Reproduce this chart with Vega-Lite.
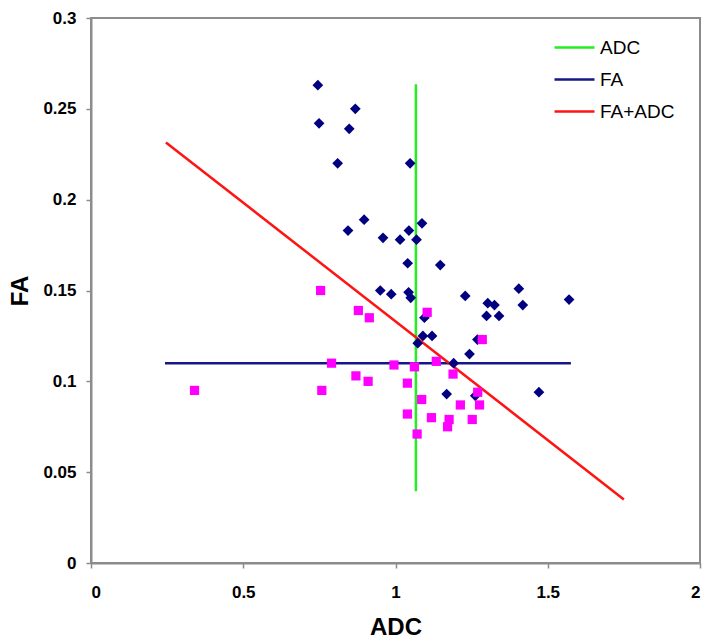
{
  "$schema": "https://vega.github.io/schema/vega-lite/v6.json",
  "autosize": "none",
  "width": 609,
  "height": 545,
  "padding": {"left": 91, "top": 18, "right": 14, "bottom": 81},
  "background": "white",
  "config": {
    "view": {"stroke": "#8c8c8c", "strokeWidth": 2},
    "axis": {
      "domainColor": "#8c8c8c", "domainWidth": 2,
      "tickColor": "#8c8c8c", "tickWidth": 1.5, "tickSize": 5,
      "grid": false,
      "labelFont": "Liberation Sans", "labelFontWeight": "bold", "labelFontSize": 17, "labelColor": "#000000",
      "titleFont": "Liberation Sans", "titleFontSize": 24, "titleFontWeight": "bold", "titleColor": "#000000"
    },
    "legend": {
      "labelFont": "Liberation Sans", "labelFontSize": 19, "labelColor": "#000000"
    }
  },
  "datasets": {
    "points": [
      {"ADC": 0.745, "FA": 0.263, "group": "diamond"},
      {"ADC": 0.868, "FA": 0.250, "group": "diamond"},
      {"ADC": 0.749, "FA": 0.242, "group": "diamond"},
      {"ADC": 0.848, "FA": 0.239, "group": "diamond"},
      {"ADC": 0.810, "FA": 0.220, "group": "diamond"},
      {"ADC": 1.048, "FA": 0.220, "group": "diamond"},
      {"ADC": 0.897, "FA": 0.189, "group": "diamond"},
      {"ADC": 0.844, "FA": 0.183, "group": "diamond"},
      {"ADC": 1.044, "FA": 0.183, "group": "diamond"},
      {"ADC": 1.087, "FA": 0.187, "group": "diamond"},
      {"ADC": 0.959, "FA": 0.179, "group": "diamond"},
      {"ADC": 1.015, "FA": 0.178, "group": "diamond"},
      {"ADC": 1.069, "FA": 0.178, "group": "diamond"},
      {"ADC": 1.040, "FA": 0.165, "group": "diamond"},
      {"ADC": 1.147, "FA": 0.164, "group": "diamond"},
      {"ADC": 0.950, "FA": 0.150, "group": "diamond"},
      {"ADC": 0.986, "FA": 0.148, "group": "diamond"},
      {"ADC": 1.043, "FA": 0.149, "group": "diamond"},
      {"ADC": 1.050, "FA": 0.146, "group": "diamond"},
      {"ADC": 1.229, "FA": 0.147, "group": "diamond"},
      {"ADC": 1.405, "FA": 0.151, "group": "diamond"},
      {"ADC": 1.570, "FA": 0.145, "group": "diamond"},
      {"ADC": 1.303, "FA": 0.143, "group": "diamond"},
      {"ADC": 1.325, "FA": 0.142, "group": "diamond"},
      {"ADC": 1.418, "FA": 0.142, "group": "diamond"},
      {"ADC": 1.299, "FA": 0.136, "group": "diamond"},
      {"ADC": 1.340, "FA": 0.136, "group": "diamond"},
      {"ADC": 1.095, "FA": 0.135, "group": "diamond"},
      {"ADC": 1.090, "FA": 0.125, "group": "diamond"},
      {"ADC": 1.120, "FA": 0.125, "group": "diamond"},
      {"ADC": 1.073, "FA": 0.121, "group": "diamond"},
      {"ADC": 1.269, "FA": 0.123, "group": "diamond"},
      {"ADC": 1.243, "FA": 0.115, "group": "diamond"},
      {"ADC": 1.191, "FA": 0.110, "group": "diamond"},
      {"ADC": 1.168, "FA": 0.093, "group": "diamond"},
      {"ADC": 1.262, "FA": 0.092, "group": "diamond"},
      {"ADC": 1.471, "FA": 0.094, "group": "diamond"},
      {"ADC": 0.754, "FA": 0.150, "group": "square"},
      {"ADC": 0.878, "FA": 0.139, "group": "square"},
      {"ADC": 0.914, "FA": 0.135, "group": "square"},
      {"ADC": 0.790, "FA": 0.110, "group": "square"},
      {"ADC": 0.340, "FA": 0.095, "group": "square"},
      {"ADC": 0.758, "FA": 0.095, "group": "square"},
      {"ADC": 0.870, "FA": 0.103, "group": "square"},
      {"ADC": 0.910, "FA": 0.100, "group": "square"},
      {"ADC": 1.104, "FA": 0.138, "group": "square"},
      {"ADC": 1.285, "FA": 0.123, "group": "square"},
      {"ADC": 0.995, "FA": 0.109, "group": "square"},
      {"ADC": 1.062, "FA": 0.108, "group": "square"},
      {"ADC": 1.134, "FA": 0.111, "group": "square"},
      {"ADC": 1.189, "FA": 0.104, "group": "square"},
      {"ADC": 1.039, "FA": 0.099, "group": "square"},
      {"ADC": 1.270, "FA": 0.094, "group": "square"},
      {"ADC": 1.276, "FA": 0.087, "group": "square"},
      {"ADC": 1.086, "FA": 0.090, "group": "square"},
      {"ADC": 1.213, "FA": 0.087, "group": "square"},
      {"ADC": 1.039, "FA": 0.082, "group": "square"},
      {"ADC": 1.118, "FA": 0.080, "group": "square"},
      {"ADC": 1.176, "FA": 0.079, "group": "square"},
      {"ADC": 1.171, "FA": 0.075, "group": "square"},
      {"ADC": 1.252, "FA": 0.079, "group": "square"},
      {"ADC": 1.071, "FA": 0.071, "group": "square"}
    ],
    "lines": [
      {"series": "ADC", "ADC": 1.067, "FA": 0.2635, "ord": 1},
      {"series": "ADC", "ADC": 1.067, "FA": 0.0395, "ord": 2},
      {"series": "FA", "ADC": 0.243, "FA": 0.110, "ord": 1},
      {"series": "FA", "ADC": 1.576, "FA": 0.110, "ord": 2},
      {"series": "FA+ADC", "ADC": 0.246, "FA": 0.2315, "ord": 1},
      {"series": "FA+ADC", "ADC": 1.750, "FA": 0.035, "ord": 2}
    ]
  },
  "layer": [
    {
      "data": {"name": "lines"},
      "mark": {"type": "line", "strokeWidth": 2.5, "clip": true},
      "encoding": {
        "x": {"field": "ADC", "type": "quantitative", "scale": {"domain": [0, 2], "nice": false, "zero": false},
              "axis": {"title": "ADC", "values": [0, 0.5, 1, 1.5, 2], "format": "~g", "labelPadding": 16, "titlePadding": 15}},
        "y": {"field": "FA", "type": "quantitative", "scale": {"domain": [0, 0.3], "nice": false, "zero": false},
              "axis": {"title": "FA", "values": [0, 0.05, 0.1, 0.15, 0.2, 0.25, 0.3], "format": "~g", "labelPadding": 10, "titlePadding": 10}},
        "color": {"field": "series", "type": "nominal",
                  "scale": {"domain": ["ADC", "FA", "FA+ADC"], "range": ["#22ee22", "#16168a", "#ff1414"]},
                  "legend": {"title": null, "orient": "none", "legendX": 462, "legendY": 8, "symbolType": "stroke", "symbolSize": 1600, "symbolStrokeWidth": 2.5, "rowPadding": -7, "labelOffset": 4}},
        "detail": {"field": "series"},
        "order": {"field": "ord", "type": "quantitative"}
      }
    },
    {
      "data": {"name": "points"},
      "transform": [{"filter": "datum.group === 'diamond'"}],
      "mark": {"type": "point", "shape": "diamond", "filled": true, "size": 115, "color": "#000080", "opacity": 1},
      "encoding": {
        "x": {"field": "ADC", "type": "quantitative"},
        "y": {"field": "FA", "type": "quantitative"}
      }
    },
    {
      "data": {"name": "points"},
      "transform": [{"filter": "datum.group === 'square'"}],
      "mark": {"type": "point", "shape": "square", "filled": true, "size": 85, "color": "#ff00ff", "opacity": 1},
      "encoding": {
        "x": {"field": "ADC", "type": "quantitative"},
        "y": {"field": "FA", "type": "quantitative"}
      }
    }
  ]
}
